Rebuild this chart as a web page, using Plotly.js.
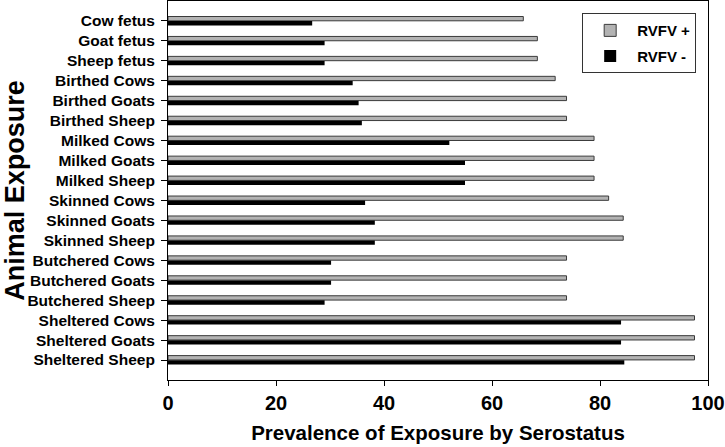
<!DOCTYPE html>
<html>
<head>
<meta charset="utf-8">
<script src="https://cdn.plot.ly/plotly-3.0.1.min.js"></script>
<style>html,body{margin:0;padding:0;background:#fff;}#chart{width:725px;height:447px;}</style>
</head>
<body>
<div id="chart"></div>
<script>
const categories = ["Cow fetus","Goat fetus","Sheep fetus","Birthed Cows","Birthed Goats","Birthed Sheep","Milked Cows","Milked Goats","Milked Sheep","Skinned Cows","Skinned Goats","Skinned Sheep","Butchered Cows","Butchered Goats","Butchered Sheep","Sheltered Cows","Sheltered Goats","Sheltered Sheep"];
const rvfvPos = [65.8,68.4,68.4,71.7,73.8,73.8,78.9,78.9,78.9,81.6,84.3,84.3,73.8,73.8,73.8,97.5,97.5,97.5];
const rvfvNeg = [26.7,29.0,29.0,34.2,35.3,35.9,52.1,55.0,55.0,36.5,38.3,38.3,30.2,30.2,29.0,83.9,83.9,84.5];
const xTicks = [0,20,40,60,80,100];

const FONT = "Liberation Sans, Arial, sans-serif";
const traces = [
  {type:'bar', orientation:'h', name:'RVFV +', legendgroup:'pos', y:categories, x:rvfvPos,
   marker:{color:'#b3b3b3', line:{color:'#3a3a3a', width:1}}},
  {type:'bar', orientation:'h', name:'RVFV -', legendgroup:'neg', y:categories, x:rvfvNeg,
   marker:{color:'#000000', line:{color:'#000', width:0}}}
];
const layout = {
  width:725, height:447,
  margin:{l:168, r:17, t:1, b:67},
  paper_bgcolor:'#fff', plot_bgcolor:'#fff',
  font:{family:FONT, color:'#000'},
  barmode:'group', bargap:0.54, bargroupgap:0.06,
  showlegend:true,
  legend:{x:0.767, y:0.968, xanchor:'left', yanchor:'top', bordercolor:'#333', borderwidth:1,
          bgcolor:'#fff', font:{family:FONT, size:15, color:'#000', weight:'bold'}, itemwidth:44,
          tracegroupgap:3},
  xaxis:{range:[0,100], tickvals:xTicks, ticktext:xTicks.map(String), ticks:'outside', ticklen:5, tickcolor:'#000',
         showgrid:false, zeroline:false, showline:true, linecolor:'#000', linewidth:1, mirror:true,
         tickfont:{family:FONT, size:20, color:'#000', weight:'bold'},
         title:{text:'Prevalence of Exposure by Serostatus', font:{family:FONT, size:20.5, color:'#000', weight:'bold'}, standoff:12}},
  yaxis:{type:'category', categoryorder:'array', categoryarray:categories, range:[18,-1],
         ticks:'outside', ticklen:6, tickcolor:'#000', showgrid:false, zeroline:false,
         showline:true, linecolor:'#000', linewidth:1, mirror:true, ticklabelstandoff:3,
         tickfont:{family:FONT, size:15.5, color:'#000', weight:'bold'},
         title:{text:'Animal Exposure', font:{family:FONT, size:27, color:'#000', weight:'bold'}, standoff:8}}
};
Plotly.newPlot('chart', traces, layout, {displayModeBar:false, staticPlot:true});
</script>
</body>
</html>
